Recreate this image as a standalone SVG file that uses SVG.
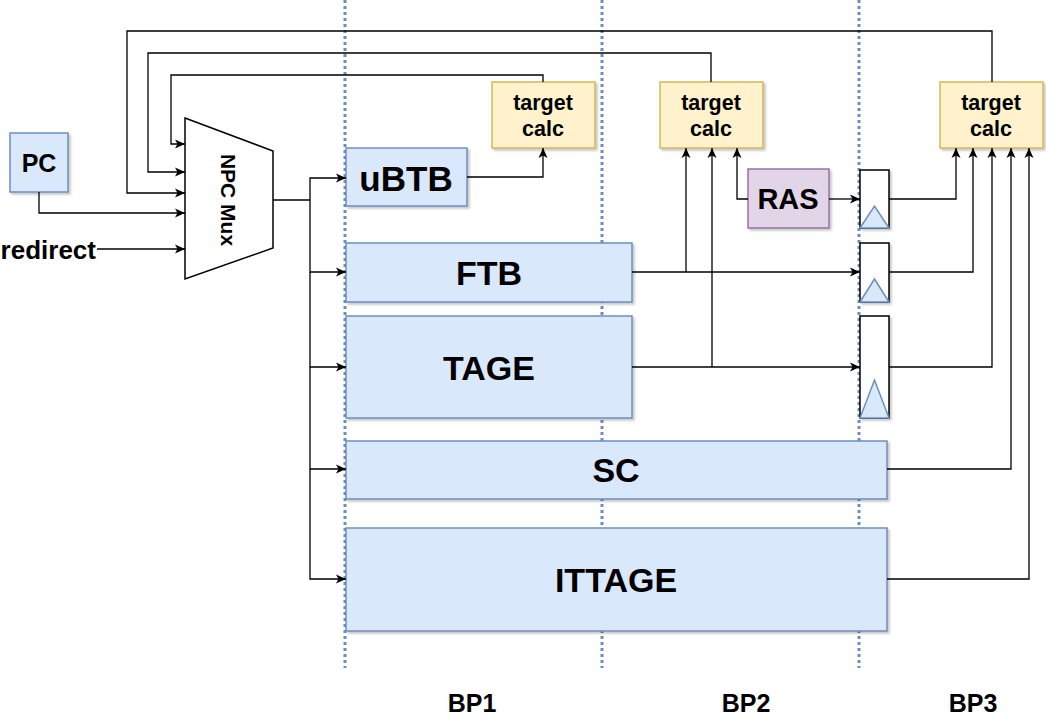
<svg xmlns="http://www.w3.org/2000/svg" width="1046" height="720" viewBox="0 0 1046 720">
<style>
text{font-family:"Liberation Sans",Arial,sans-serif;font-weight:bold;fill:#000;text-anchor:middle;dominant-baseline:central}
.blue{fill:#dae8fc;stroke:#6c8ebf;stroke-width:1.5}
.yel{fill:#fff2cc;stroke:#d6b656;stroke-width:1.5}
.pur{fill:#e1d5e7;stroke:#9673a6;stroke-width:1.5}
.reg{fill:#fff;stroke:#000;stroke-width:1.5}
.tri{fill:#dae8fc;stroke:#6c8ebf;stroke-width:1.5}
.dot{stroke:#6c8ebf;stroke-width:3;stroke-dasharray:3 3;fill:none}
.c{fill:none;stroke:#000;stroke-width:1.3}
.a{marker-end:url(#arr)}
</style>
<defs>
<marker id="arr" markerUnits="userSpaceOnUse" markerWidth="11" markerHeight="11" refX="10" refY="5.5" orient="auto">
<path d="M0,1 L10,5.5 L0,10 L2.5,5.5 z" fill="#000"/>
</marker>
<filter id="sh" x="-10%" y="-10%" width="130%" height="130%">
<feDropShadow dx="2" dy="2" stdDeviation="1" flood-color="#000" flood-opacity="0.22"/>
</filter>
</defs>
<rect width="1046" height="720" fill="#fff"/>

<g id="dividers">
<line class="dot" x1="345" y1="0" x2="345" y2="668"/>
<line class="dot" x1="602" y1="0" x2="602" y2="668"/>
<line class="dot" x1="859" y1="0" x2="859" y2="668"/>
</g>

<g id="pc"><rect class="blue" filter="url(#sh)" x="10" y="133" width="58" height="59"/><text x="39" y="163" font-size="25">PC</text></g>
<g id="redirect"><text x="96" y="250" font-size="26" style="text-anchor:end">redirect</text></g>
<g id="npcmux"><path class="reg" d="M185,118 L273,151 L273,248 L185,279 Z"/><text x="228" y="200" font-size="21" transform="rotate(90 228 200)">NPC Mux</text></g>

<g id="ubtb"><rect class="blue" filter="url(#sh)" x="346" y="148" width="121" height="58"/><text x="406" y="178" font-size="35">uBTB</text></g>
<g id="ftb"><rect class="blue" filter="url(#sh)" x="346" y="243" width="286" height="59"/><text x="489" y="273" font-size="34">FTB</text></g>
<g id="tage"><rect class="blue" filter="url(#sh)" x="346" y="316" width="286" height="102"/><text x="489" y="368" font-size="34">TAGE</text></g>
<g id="sc"><rect class="blue" filter="url(#sh)" x="346" y="441" width="541" height="58"/><text x="616" y="470" font-size="34">SC</text></g>
<g id="ittage"><rect class="blue" filter="url(#sh)" x="346" y="528" width="541" height="103"/><text x="616" y="580" font-size="34">ITTAGE</text></g>

<g id="tc1"><rect class="yel" filter="url(#sh)" x="492" y="82" width="103" height="66"/><text x="543" y="103" font-size="21.5">target</text><text x="543" y="129" font-size="21.5">calc</text></g>
<g id="tc2"><rect class="yel" filter="url(#sh)" x="660" y="82" width="103" height="66"/><text x="711" y="103" font-size="21.5">target</text><text x="711" y="129" font-size="21.5">calc</text></g>
<g id="tc3"><rect class="yel" filter="url(#sh)" x="940" y="82" width="103" height="66"/><text x="991" y="103" font-size="21.5">target</text><text x="991" y="129" font-size="21.5">calc</text></g>

<g id="ras"><rect class="pur" filter="url(#sh)" x="748" y="169" width="81" height="59"/><text x="788" y="199" font-size="29">RAS</text></g>

<g id="reg1"><rect class="reg" filter="url(#sh)" x="860" y="170" width="29" height="58"/><path class="tri" d="M860,228 L874.5,206 L889,228 Z"/></g>
<g id="reg2"><rect class="reg" filter="url(#sh)" x="860" y="243" width="29" height="59"/><path class="tri" d="M860,302 L874.5,279 L889,302 Z"/></g>
<g id="reg3"><rect class="reg" filter="url(#sh)" x="860" y="316" width="29" height="102"/><path class="tri" d="M860,418 L874.5,380 L889,418 Z"/></g>

<g id="labels">
<text x="472" y="703" font-size="25">BP1</text>
<text x="746" y="703" font-size="25">BP2</text>
<text x="973" y="703" font-size="25">BP3</text>
</g>

<g id="connectors">
<path class="c a" d="M543,82 V75 H171 V144 H185"/>
<path class="c a" d="M711,82 V53 H148 V172 H185"/>
<path class="c a" d="M992,82 V31 H127 V193 H185"/>
<path class="c a" d="M39,192 V213 H185"/>
<path class="c a" d="M97,249 H185"/>
<path class="c" d="M273,200 H310"/>
<path class="c a" d="M310,200 V178 H346"/>
<path class="c a" d="M310,200 V272 H346"/>
<path class="c a" d="M310,272 V367 H346"/>
<path class="c a" d="M310,367 V469 H346"/>
<path class="c a" d="M310,469 V579 H346"/>
<path class="c a" d="M467,177 H543 V148"/>
<path class="c a" d="M632,272 H860"/>
<path class="c a" d="M686,272 V148"/>
<path class="c a" d="M632,367 H860"/>
<path class="c a" d="M712,367 V148"/>
<path class="c a" d="M748,199 H737 V148"/>
<path class="c a" d="M829,199 H860"/>
<path class="c a" d="M889,199 H956 V148"/>
<path class="c a" d="M889,272 H973 V148"/>
<path class="c a" d="M889,367 H992 V148"/>
<path class="c a" d="M887,469 H1011 V148"/>
<path class="c a" d="M887,579 H1029 V148"/>
</g>
</svg>
